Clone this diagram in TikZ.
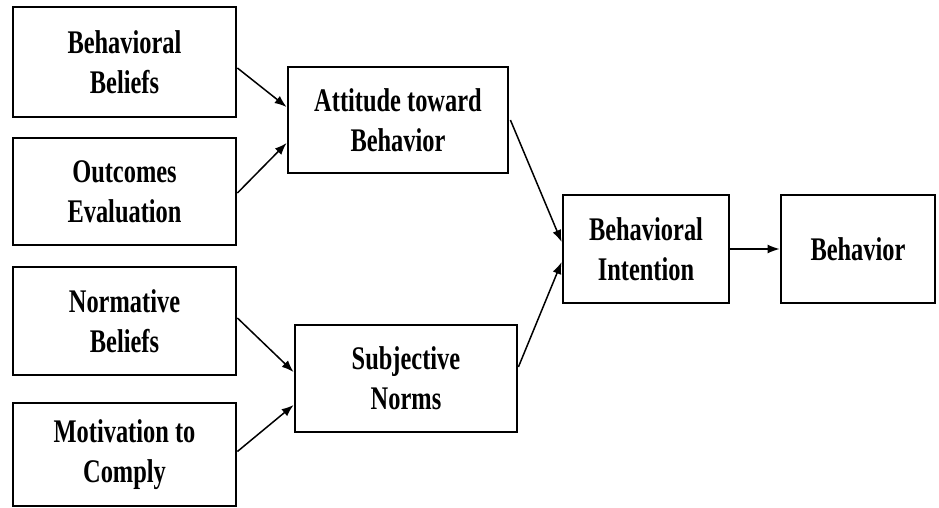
\documentclass[tikz,border=0pt]{standalone}
\usepackage{fontspec}
\setmainfont{Liberation Serif}[FakeStretch=0.74]
\usetikzlibrary{arrows.meta}
\begin{document}
\begin{tikzpicture}[x=1pt,y=-1pt,
  box/.style={draw=black,line width=2.8pt,fill=white,rectangle,inner sep=0pt,
    align=center,font=\fontsize{33}{40}\selectfont\bfseries},
  conn/.style={line width=1.5pt,-{Latex[length=12pt,width=9pt]}}]
\useasboundingbox (0,0) rectangle (939,508);
\node[box,minimum width=223pt,minimum height=110pt] (bb) at (124.5,62) {Behavioral\\Beliefs};
\node[box,minimum width=223pt,minimum height=107pt] (oe) at (124.5,191.5) {Outcomes\\Evaluation};
\node[box,minimum width=223pt,minimum height=108pt] (nb) at (124.5,321) {Normative\\Beliefs};
\node[box,minimum width=223pt,minimum height=103pt] (mc) at (124.5,454.5) {Motivation to\\Comply};
\node[box,minimum width=220pt,minimum height=106pt] (att) at (398,120) {Attitude toward\\Behavior};
\node[box,minimum width=222pt,minimum height=107pt] (sn) at (406,378.5) {Subjective\\Norms};
\node[box,minimum width=166pt,minimum height=108pt] (bi) at (646,249) {Behavioral\\Intention};
\node[box,minimum width=154pt,minimum height=108pt] (beh) at (858,249) {Behavior};
\draw[conn] ([yshift=-6pt]bb.east) -- ([yshift=13pt]att.west);
\draw[conn] ([yshift=-1.5pt]oe.east) -- ([yshift=-23pt]att.west);
\draw[conn] ([yshift=3pt]nb.east) -- ([yshift=6.5pt]sn.west);
\draw[conn] ([yshift=3pt]mc.east) -- ([yshift=-26.5pt]sn.west);
\draw[conn] ([xshift=1pt]att.east) -- ([yshift=7pt]bi.west);
\draw[conn] ([yshift=11.5pt]sn.east) -- ([yshift=-13pt]bi.west);
\draw[conn] (bi.east) -- (beh.west);
\end{tikzpicture}
\end{document}
